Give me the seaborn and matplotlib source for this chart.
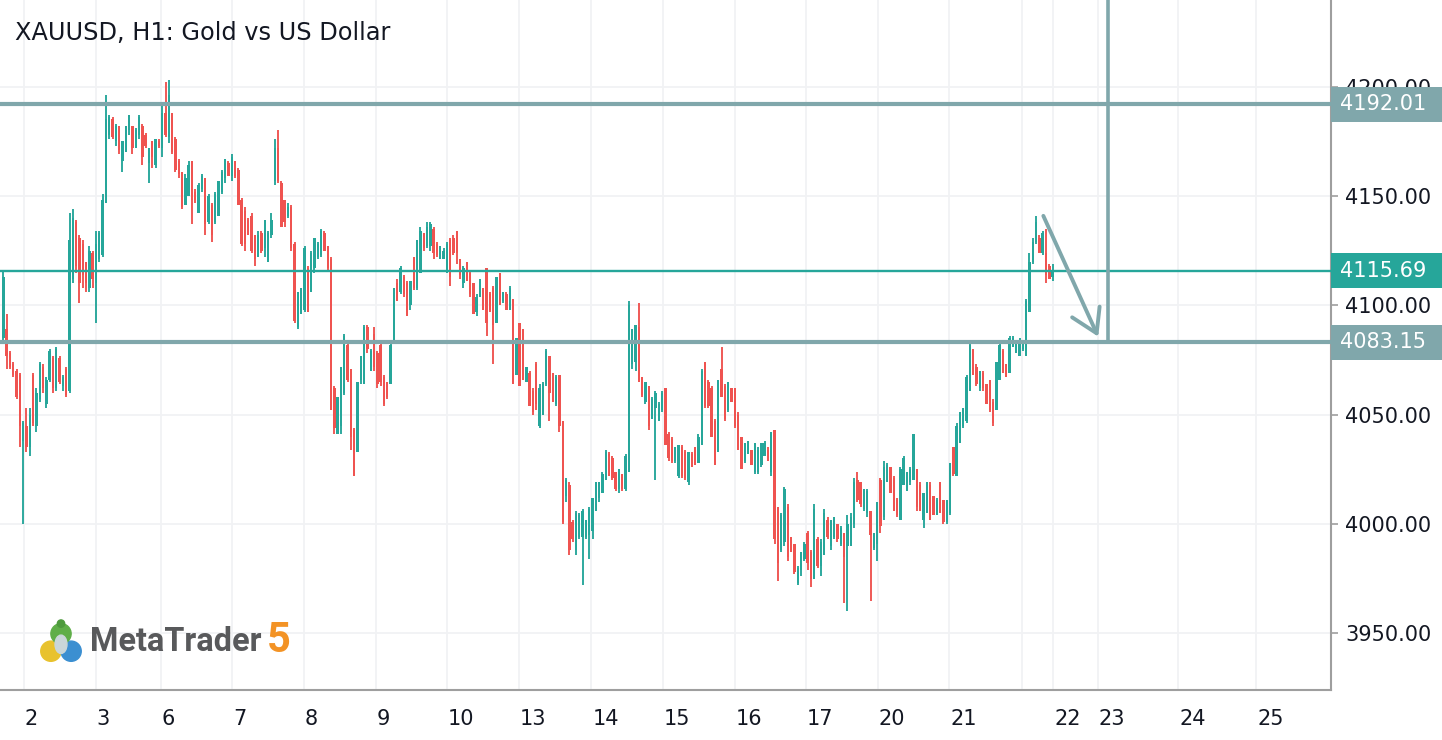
import numpy as np
import pandas as pd
import matplotlib
matplotlib.use("Agg")
import matplotlib.pyplot as plt
import matplotlib.transforms as mtransforms
from matplotlib.patches import Rectangle, Circle, Ellipse
from matplotlib.ticker import FormatStrFormatter
import seaborn as sns

# XAUUSD H1 candles (one entry per hour)
opens = [
    4085, 4089, 4078, 4073, 4070, 4068, 4038, 4045, 4035, 4068,
    4045, 4057, 4072, 4055, 4066, 4076, 4062, 4076, 4063, 4071,
    4061, 4112, 4138, 4131, 4128, 4120, 4108, 4124, 4110, 4121,
    4123, 4147, 4178, 4185, 4175, 4182, 4166, 4170, 4180, 4182,
    4172, 4178, 4182, 4178, 4165, 4175, 4164, 4175, 4172, 4188,
    4177, 4188, 4176, 4166, 4161, 4146, 4150, 4166, 4152, 4142,
    4153, 4158, 4138, 4146, 4138, 4141, 4152, 4158, 4165, 4159,
    4166, 4162, 4148, 4143, 4139, 4141, 4132, 4122, 4133, 4126,
    4120, 4132, 4157, 4172, 4156, 4148, 4141, 4145, 4128, 4090,
    4096, 4098, 4117, 4106, 4117, 4122, 4123, 4133, 4127, 4121,
    4062, 4041, 4045, 4060, 4082, 4071, 4043, 4033, 4066, 4064,
    4090, 4070, 4087, 4078, 4082, 4067, 4065, 4064, 4083, 4110,
    4106, 4113, 4110, 4100, 4122, 4108, 4115, 4133, 4127, 4127,
    4135, 4128, 4121, 4121, 4115, 4130, 4131, 4134, 4121, 4110,
    4120, 4115, 4110, 4097, 4104, 4108, 4117, 4105, 4108, 4092,
    4115, 4102, 4105, 4098, 4103, 4068, 4092, 4089, 4065, 4069,
    4061, 4073, 4045, 4050, 4064, 4077, 4069, 4055, 4068, 4047,
    4013, 4018, 4001, 3988, 3994, 3994, 3994, 3995, 3997, 4006,
    4012, 4014, 4020, 4032, 4030, 4024, 4016, 4023, 4016, 4024,
    4073, 4074, 4090, 4067, 4056, 4063, 4048, 4053, 4047, 4052,
    4062, 4041, 4039, 4029, 4022, 4035, 4033, 4019, 4032, 4035,
    4028, 4036, 4074, 4065, 4062, 4047, 4033, 4071, 4063, 4052,
    4062, 4062, 4050, 4040, 4029, 4032, 4034, 4024, 4024, 4027,
    4031, 4034, 4024, 4043, 4008, 3988, 3992, 4008, 3994, 3991,
    3973, 3979, 3984, 3996, 3987, 3975, 3993, 3981, 3986, 4002,
    3990, 3994, 4000, 3991, 3996, 3990, 3990, 4000, 4020, 4019,
    4007, 4005, 4006, 3989, 3991, 4020, 4003, 4019, 4026, 4021,
    4011, 4002, 4018, 4015, 4019, 4020, 4025, 4018, 4002, 4005,
    4018, 4013, 4004, 4019, 4011, 4001, 4005, 4035, 4022, 4037,
    4045, 4047, 4061, 4080, 4072, 4062, 4069, 4064, 4066, 4056,
    4052, 4066, 4079, 4073, 4069, 4081, 4078, 4077, 4080, 4077,
    4097, 4120, 4129, 4131, 4124, 4124, 4118, 4113,
]
highs = [
    4116, 4096, 4079, 4074, 4071, 4069, 4047, 4053, 4053, 4069,
    4062, 4074, 4073, 4067, 4080, 4077, 4081, 4077, 4068, 4072,
    4142, 4144, 4139, 4132, 4130, 4120, 4127, 4125, 4134, 4134,
    4151, 4196, 4187, 4186, 4183, 4182, 4175, 4182, 4187, 4182,
    4181, 4187, 4183, 4179, 4172, 4175, 4176, 4176, 4192, 4202,
    4203, 4188, 4177, 4167, 4161, 4160, 4166, 4166, 4153, 4156,
    4160, 4158, 4151, 4147, 4152, 4157, 4162, 4167, 4166, 4169,
    4166, 4163, 4149, 4145, 4140, 4142, 4132, 4134, 4134, 4139,
    4134, 4142, 4176, 4180, 4157, 4148, 4147, 4146, 4129, 4106,
    4108, 4127, 4118, 4125, 4131, 4129, 4135, 4134, 4127, 4122,
    4063, 4058, 4072, 4087, 4083, 4071, 4044, 4065, 4077, 4091,
    4091, 4080, 4090, 4079, 4083, 4068, 4065, 4083, 4108, 4112,
    4118, 4114, 4111, 4111, 4122, 4130, 4136, 4133, 4138, 4138,
    4136, 4129, 4127, 4126, 4129, 4131, 4132, 4134, 4121, 4118,
    4120, 4116, 4110, 4105, 4112, 4108, 4117, 4106, 4109, 4113,
    4115, 4106, 4106, 4109, 4103, 4085, 4092, 4089, 4072, 4070,
    4062, 4074, 4064, 4065, 4080, 4077, 4069, 4068, 4068, 4047,
    4021, 4019, 4002, 4006, 4005, 4007, 4002, 4008, 4012, 4019,
    4019, 4024, 4034, 4033, 4031, 4024, 4025, 4023, 4032, 4102,
    4089, 4091, 4101, 4067, 4065, 4063, 4058, 4061, 4056, 4061,
    4062, 4042, 4040, 4035, 4036, 4036, 4034, 4033, 4033, 4035,
    4041, 4071, 4074, 4066, 4063, 4048, 4066, 4081, 4064, 4065,
    4062, 4062, 4051, 4040, 4037, 4038, 4034, 4037, 4035, 4037,
    4038, 4035, 4042, 4043, 4008, 4005, 4017, 4009, 3994, 3991,
    3981, 3987, 3992, 3997, 3988, 4009, 3994, 3993, 4007, 4003,
    4002, 4003, 4000, 3999, 3996, 4004, 4005, 4021, 4024, 4019,
    4016, 4016, 4006, 3996, 4010, 4021, 4029, 4028, 4026, 4022,
    4012, 4026, 4031, 4024, 4026, 4041, 4025, 4019, 4014, 4019,
    4019, 4013, 4012, 4019, 4011, 4011, 4028, 4035, 4046, 4051,
    4053, 4068, 4083, 4080, 4073, 4070, 4070, 4064, 4066, 4057,
    4074, 4083, 4080, 4073, 4086, 4086, 4084, 4085, 4084, 4103,
    4124, 4131, 4141, 4132, 4134, 4135, 4119, 4119,
]
lows = [
    4083, 4071, 4071, 4067, 4057, 4035, 4000, 4033, 4031, 4045,
    4042, 4056, 4060, 4053, 4065, 4060, 4061, 4064, 4061, 4058,
    4060, 4110, 4115, 4101, 4108, 4106, 4106, 4108, 4092, 4120,
    4122, 4147, 4176, 4176, 4173, 4169, 4161, 4170, 4178, 4169,
    4172, 4176, 4164, 4172, 4156, 4163, 4163, 4172, 4168, 4177,
    4174, 4169, 4161, 4158, 4144, 4146, 4150, 4137, 4147, 4142,
    4152, 4132, 4137, 4129, 4137, 4141, 4151, 4156, 4159, 4157,
    4158, 4146, 4127, 4125, 4132, 4124, 4118, 4122, 4124, 4122,
    4120, 4131, 4155, 4156, 4136, 4136, 4140, 4125, 4092, 4089,
    4096, 4097, 4097, 4106, 4115, 4121, 4122, 4125, 4116, 4052,
    4041, 4041, 4041, 4059, 4065, 4034, 4022, 4033, 4064, 4064,
    4078, 4070, 4070, 4062, 4063, 4054, 4057, 4064, 4083, 4102,
    4105, 4104, 4095, 4098, 4107, 4107, 4115, 4125, 4126, 4125,
    4121, 4122, 4121, 4121, 4115, 4109, 4123, 4119, 4112, 4108,
    4111, 4104, 4096, 4095, 4104, 4098, 4086, 4097, 4073, 4092,
    4100, 4101, 4098, 4098, 4064, 4068, 4063, 4066, 4065, 4054,
    4050, 4052, 4044, 4050, 4063, 4047, 4056, 4054, 4042, 4000,
    4010, 3986, 3992, 3986, 3993, 3972, 3993, 3984, 3993, 4006,
    4010, 4014, 4020, 4022, 4020, 4015, 4014, 4015, 4015, 4024,
    4071, 4070, 4065, 4058, 4055, 4043, 4048, 4020, 4047, 4051,
    4036, 4029, 4028, 4028, 4021, 4021, 4020, 4018, 4026, 4027,
    4028, 4036, 4053, 4053, 4040, 4027, 4033, 4058, 4047, 4051,
    4056, 4044, 4034, 4025, 4028, 4032, 4027, 4023, 4023, 4026,
    4031, 4029, 4022, 3991, 3974, 3987, 3990, 3983, 3987, 3977,
    3972, 3976, 3983, 3979, 3971, 3975, 3980, 3976, 3986, 3993,
    3988, 3993, 3992, 3990, 3964, 3960, 3990, 3998, 4010, 4008,
    4006, 4003, 3965, 3988, 3983, 3996, 4002, 4019, 4014, 4006,
    4003, 4002, 4018, 4015, 4018, 4020, 4006, 4006, 3998, 4005,
    4002, 4004, 4004, 4005, 4000, 4000, 4004, 4022, 4022, 4037,
    4044, 4046, 4061, 4068, 4063, 4061, 4061, 4055, 4051, 4045,
    4052, 4066, 4069, 4067, 4069, 4081, 4078, 4077, 4079, 4077,
    4097, 4119, 4128, 4124, 4123, 4110, 4112, 4111,
]
closes = [
    4113, 4077, 4072, 4068, 4058, 4045, 4046, 4035, 4050, 4046,
    4060, 4073, 4062, 4066, 4079, 4062, 4080, 4065, 4067, 4059,
    4130, 4140, 4118, 4110, 4114, 4110, 4125, 4112, 4128, 4133,
    4148, 4185, 4186, 4177, 4182, 4171, 4175, 4182, 4187, 4172,
    4180, 4186, 4168, 4173, 4172, 4168, 4176, 4173, 4188, 4178,
    4196, 4170, 4162, 4160, 4145, 4158, 4164, 4148, 4148, 4155,
    4159, 4137, 4150, 4132, 4151, 4157, 4161, 4167, 4159, 4168,
    4159, 4146, 4128, 4128, 4132, 4125, 4121, 4132, 4125, 4139,
    4133, 4139, 4172, 4157, 4136, 4138, 4145, 4126, 4093, 4106,
    4108, 4126, 4097, 4124, 4131, 4128, 4134, 4125, 4117, 4052,
    4044, 4058, 4072, 4086, 4066, 4040, 4022, 4065, 4077, 4090,
    4080, 4079, 4072, 4064, 4065, 4055, 4058, 4082, 4108, 4102,
    4117, 4105, 4095, 4111, 4108, 4130, 4134, 4126, 4136, 4137,
    4124, 4123, 4127, 4125, 4128, 4113, 4124, 4124, 4114, 4117,
    4111, 4105, 4096, 4104, 4112, 4098, 4092, 4098, 4091, 4113,
    4100, 4106, 4098, 4108, 4064, 4085, 4063, 4066, 4072, 4054,
    4051, 4055, 4062, 4064, 4079, 4060, 4056, 4067, 4045, 4001,
    4020, 3988, 3993, 4005, 4004, 4006, 4002, 4007, 4012, 4019,
    4019, 4023, 4033, 4022, 4021, 4016, 4025, 4016, 4031, 4100,
    4089, 4091, 4065, 4059, 4065, 4045, 4057, 4060, 4055, 4060,
    4036, 4030, 4029, 4035, 4036, 4022, 4021, 4033, 4026, 4027,
    4040, 4070, 4054, 4054, 4040, 4027, 4066, 4058, 4048, 4065,
    4056, 4045, 4034, 4025, 4037, 4038, 4027, 4037, 4034, 4037,
    4037, 4029, 4042, 3993, 3982, 4004, 4016, 3985, 3987, 3978,
    3980, 3987, 3991, 3982, 3975, 4007, 3981, 3992, 4005, 3994,
    4002, 4003, 3993, 3998, 3985, 4000, 4003, 4019, 4011, 4009,
    4016, 4015, 3995, 3996, 4010, 3999, 4026, 4027, 4014, 4006,
    4004, 4025, 4030, 4024, 4025, 4041, 4008, 4006, 4014, 4019,
    4002, 4004, 4011, 4005, 4001, 4011, 4028, 4023, 4045, 4051,
    4053, 4067, 4082, 4068, 4064, 4070, 4062, 4055, 4052, 4046,
    4074, 4082, 4069, 4067, 4085, 4085, 4084, 4084, 4083, 4102,
    4120, 4129, 4138, 4124, 4133, 4114, 4112, 4115.69,
]

day_labels = ["2", "3", "6", "7", "8", "9", "10", "13", "14", "15", "16",
              "17", "20", "21", "", "22", "23", "24", "25"]
price_ticks = [3950, 4000, 4050, 4100, 4150, 4200]
level_prices = [4192.01, 4115.69, 4083.15]
title = "XAUUSD, H1: Gold vs US Dollar"

# layout (candle-index units for x)
day_tick_x = [6.1, 27.9, 47.6, 69.2, 90.8, 112.6, 134.0, 155.8, 177.6, 199.3,
              220.9, 242.5, 264.1, 285.7, 307.8, 317.2, 330.6, 354.9, 378.5]
XLIM = (-1.0, 401.1)
YLIM = (3924.1, 4239.6)

BULL = "#26a69a"
BEAR = "#ef5350"
GREY_LINE = "#80a7ab"
AXIS_GREY = "#9e9e9e"
TXT = "#131722"

sns.set_style("white")
plt.rcParams["font.family"] = ["DejaVu Sans"]

df = pd.DataFrame({"open": opens, "high": highs, "low": lows, "close": closes})
df["x"] = np.arange(len(df))
df["color"] = np.where(df["close"] >= df["open"], BULL, BEAR)

W, H = 1442, 740
fig = plt.figure(figsize=(W / 100, H / 100), dpi=100)
ax = fig.add_axes([0, 50 / H, 1331 / W, 690 / H])

# candles
ax.vlines(df["x"], df["low"], df["high"], colors=df["color"], linewidth=1.35, zorder=3)
body = (df["close"] - df["open"]).abs().clip(lower=0.8)
ax.bar(df["x"], body, bottom=df[["open", "close"]].min(axis=1), width=0.72,
       color=df["color"], linewidth=0, zorder=3)

# horizontal levels
ax.axhline(level_prices[0], color=GREY_LINE, lw=3.0, zorder=4)
ax.axhline(level_prices[1], color=BULL, lw=1.7, zorder=4)
ax.axhline(level_prices[2], color=GREY_LINE, lw=3.0, zorder=4)

# vertical marker + arrow
ax.plot([333.7, 333.7], [level_prices[2], YLIM[1] + 5], color=GREY_LINE, lw=2.6,
        zorder=4, clip_on=True)
ax.plot([314.2, 330.3], [4140.9, 4087.2], color=GREY_LINE, lw=2.8,
        solid_capstyle="round", zorder=5)
ax.plot([322.9, 330.3, 331.2], [4094.5, 4087.2, 4099.4], color=GREY_LINE, lw=2.8,
        solid_capstyle="round", solid_joinstyle="round", zorder=5)

ax.set_xlim(*XLIM)
ax.set_ylim(*YLIM)

# axes styling
ax.yaxis.tick_right()
ax.set_yticks(price_ticks)
ax.yaxis.set_major_formatter(FormatStrFormatter("%.2f"))
ax.set_xticks(day_tick_x)
ax.set_xticklabels(day_labels)
ax.tick_params(axis="y", which="major", length=5, width=1.2, color=AXIS_GREY,
               labelsize=15, labelcolor=TXT, pad=5, direction="out")
ax.tick_params(axis="x", which="major", length=6, width=1.2, color=AXIS_GREY,
               labelsize=15, labelcolor=TXT, pad=8, direction="out")
offset = mtransforms.ScaledTranslation(1 / 100, 0, fig.dpi_scale_trans)
for lab in ax.get_xticklabels():
    lab.set_ha("left")
    lab.set_transform(lab.get_transform() + offset)

ax.grid(True, color="#f1f2f4", lw=1.3)
ax.set_axisbelow(True)
for side in ["left", "top"]:
    ax.spines[side].set_visible(False)
for side in ["right", "bottom"]:
    ax.spines[side].set_color(AXIS_GREY)
    ax.spines[side].set_linewidth(1.5)

# price boxes on the right scale
trans = mtransforms.blended_transform_factory(fig.transFigure, ax.transData)
box_colors = [GREY_LINE, BULL, GREY_LINE]
for price, col in zip(level_prices, box_colors):
    fig.add_artist(Rectangle((1331 / W, price - 8.0), 1 - 1331 / W, 16.0,
                             transform=trans, facecolor=col, edgecolor="none",
                             zorder=5))
    fig.text(1340 / W, price, f"{price:.2f}", transform=trans, color="white",
             fontsize=15, va="center", ha="left", zorder=6)

# title
fig.text(15 / W, 1 - 33 / H, title, fontsize=17.3, color=TXT, va="center", ha="left")

# MetaTrader 5 logo, fitted to the width it has in the picture
renderer = fig.canvas.get_renderer()
logo = fig.text(90 / W, 1 - 642 / H, "MetaTrader", fontsize=26, fontweight="bold",
                family="Roboto", color="#58595b", va="center", ha="left")
wpx = logo.get_window_extent(renderer).width
logo.set_fontsize(26 * 172 / wpx)
fig.text(267 / W, 1 - 641 / H, "5", fontsize=30, fontweight="bold",
         family="Roboto", color="#f39325", va="center", ha="left")
icon = fig.add_axes([38 / W, 1 - 665 / H, 46 / W, 46 / H])
icon.set_xlim(0, 1)
icon.set_ylim(0, 1)
icon.axis("off")
icon.add_patch(Circle((0.28, 0.30), 0.22, color="#e8c22e"))
icon.add_patch(Circle((0.72, 0.30), 0.22, color="#3b8fd1"))
icon.add_patch(Circle((0.50, 0.68), 0.22, color="#5fae48"))
icon.add_patch(Ellipse((0.50, 0.45), 0.26, 0.40, color="#c9d6d9"))
icon.add_patch(Circle((0.50, 0.90), 0.08, color="#4d9a3c"))

fig.savefig("out.png", dpi=100)
